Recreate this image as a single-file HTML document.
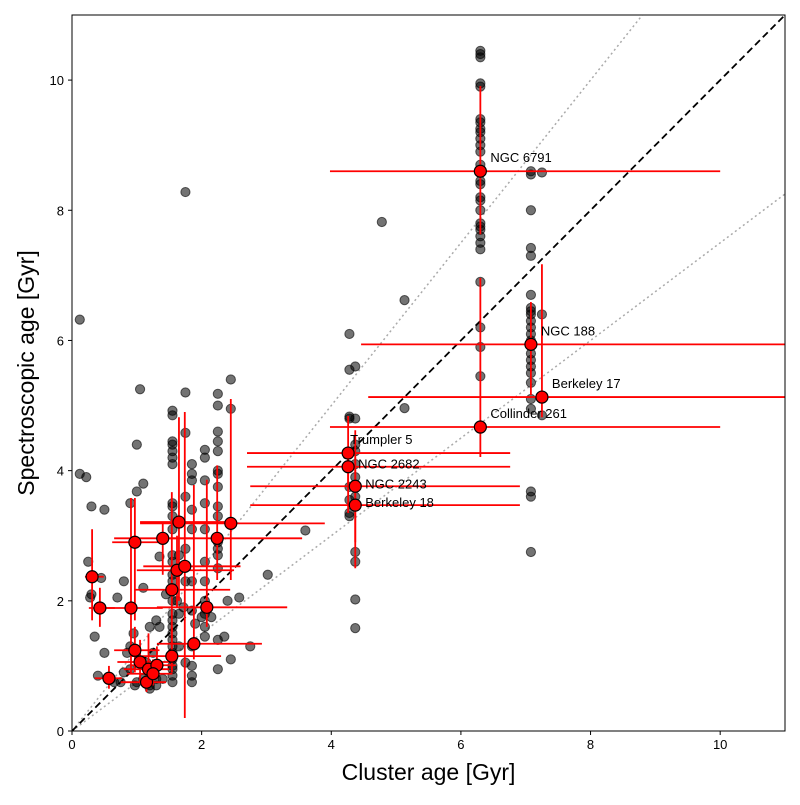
<!DOCTYPE html>
<html><head><meta charset="utf-8"><style>
body{margin:0;background:#fff}
svg{font-family:"Liberation Sans","DejaVu Sans",sans-serif}
</style></head><body>
<svg id="chart" width="800" height="800" viewBox="0 0 800 800"></svg>
<script>
const starX = [6.3,6.3,6.3,6.3,6.3,6.3,6.3,6.3,6.3,6.3,6.3,6.3,6.3,6.3,6.3,6.3,6.3,6.3,6.3,6.3,6.3,6.3,6.3,6.3,6.3,6.3,6.3,6.3,
7.08,7.08,7.08,7.08,7.08,7.08,7.08,7.08,7.08,7.08,7.08,7.08,7.08,7.08,7.08,7.08,7.08,7.08,7.08,7.08,7.08,7.25,7.25,7.25,
4.28,4.28,4.28,4.28,4.28,4.28,4.28,4.28,4.37,4.37,4.37,4.37,4.37,4.37,4.37,4.37,4.37,4.37,4.37,
4.78,5.13,5.13,3.6,3.02,2.75,2.58,
1.55,1.55,1.55,1.55,1.55,1.55,1.55,1.55,1.55,1.55,1.55,1.55,1.55,1.55,1.55,1.55,1.55,1.55,1.55,1.55,1.55,1.55,1.55,1.55,1.55,1.55,1.55,1.55,
1.85,1.85,1.85,1.85,1.85,1.85,1.85,1.85,1.85,1.85,1.85,2.05,2.05,2.05,2.05,2.05,2.05,2.05,2.05,2.05,2.05,2.05,
2.25,2.25,2.25,2.25,2.25,2.25,2.25,2.25,2.25,2.25,2.25,2.25,2.25,2.25,2.25,2.25,2.45,2.45,2.45,
1.75,1.75,1.75,1.75,1.75,1.75,1.75,1.65,1.65,1.65,1.35,1.35,1.3,1.3,1.2,1.2,1.1,1.1,1.05,1.0,1.0,0.97,0.95,0.9,0.9,0.85,0.8,0.7,0.65,0.6,0.5,0.45,0.4,0.3,0.3,0.28,0.25,0.12,0.12,0.22,0.35,0.5,0.8,1.25,1.45,1.62,1.72,1.9,2.0,2.15,2.4,2.35,1.4,1.15,1.0,1.1,1.2,1.3,0.9,0.75,
7.08,7.08];
const starY = [10.45,10.4,10.35,9.95,9.9,9.4,9.35,9.25,9.2,9.1,9.0,8.9,8.7,8.45,8.4,8.2,8.15,8.0,7.8,7.75,7.7,7.6,7.5,7.4,6.9,6.2,5.9,5.45,
8.6,8.55,8.0,7.42,7.3,6.7,6.5,6.45,6.4,6.3,6.2,6.1,6.0,5.8,5.7,5.6,5.5,5.35,5.1,4.95,3.68,8.58,6.4,4.85,
6.1,5.55,4.83,4.8,3.75,3.3,3.35,3.55,5.6,4.8,4.4,4.3,4.1,3.9,3.6,2.75,2.6,2.02,1.58,
7.82,6.62,4.96,3.08,2.4,1.3,2.05,
4.92,4.85,4.45,4.4,4.3,4.2,4.1,3.5,3.45,3.3,3.1,2.7,2.6,2.4,2.3,2.0,1.8,1.7,1.6,1.5,1.4,1.3,1.2,1.1,1.0,0.95,0.85,0.75,
4.1,3.95,3.85,3.4,3.1,2.3,1.85,1.3,1.0,0.85,0.75,4.32,4.2,3.85,3.5,3.1,2.6,2.3,2.0,1.8,1.6,1.45,
5.18,5.0,4.6,4.45,4.3,4.0,3.95,3.75,3.45,3.3,2.9,2.8,2.7,2.5,1.4,0.95,5.4,4.95,1.1,
8.28,5.2,4.58,3.6,2.8,2.3,1.05,2.7,1.8,1.3,2.68,1.6,1.7,0.7,1.6,0.65,3.8,2.2,5.25,4.4,3.68,0.7,1.5,3.5,1.3,1.2,0.9,2.05,0.75,0.8,3.4,2.35,0.85,2.1,3.45,2.05,2.6,6.32,3.95,3.9,1.45,1.2,2.3,1.2,2.1,2.0,1.9,1.65,1.75,1.75,2.0,1.45,0.8,1.05,0.75,0.8,0.7,0.8,0.95,0.75,
3.6,2.75];
const clusterNames = ["NGC 6791","NGC 188","Berkeley 17","Collinder 261","Trumpler 5","NGC 2682","NGC 2243","Berkeley 18"];
const clX  = [6.3,7.08,7.25,6.3,4.26,4.26,4.37,4.37,0.31,0.43,0.57,0.91,0.97,0.97,1.05,1.18,1.15,1.31,1.25,1.40,1.54,1.54,1.62,1.65,1.74,1.88,2.08,2.24,2.45];
const clY  = [8.6,5.94,5.13,4.67,4.27,4.06,3.76,3.47,2.37,1.89,0.81,1.89,2.9,1.24,1.06,0.95,0.75,1.01,0.88,2.96,2.17,1.15,2.47,3.21,2.53,1.34,1.9,2.96,3.19];
const clXlo= [3.98,4.46,4.57,3.98,2.7,2.7,2.75,2.75,0.2,0.26,0.35,0.5,0.62,0.65,0.7,0.8,0.75,0.9,0.85,0.65,0.97,0.9,1.0,1.05,1.1,1.31,1.31,1.5,1.05];
const clXhi= [10.0,11.5,11.5,10.0,6.76,6.76,6.91,6.91,0.49,0.66,0.77,1.4,1.34,1.35,1.5,1.5,1.45,1.6,1.55,1.9,2.44,2.3,2.5,2.5,2.6,2.93,3.32,3.55,3.9];
const clYlo= [7.63,5.16,4.82,4.21,3.35,3.8,2.5,2.9,1.7,1.6,0.65,0.89,1.7,0.9,0.75,0.7,0.6,0.8,0.7,2.4,0.9,0.9,1.9,2.0,0.2,1.1,1.6,2.32,2.32];
const clYhi= [9.91,6.59,7.17,6.96,4.84,4.3,4.62,4.2,3.1,2.2,1.0,3.58,3.58,1.6,1.4,1.5,0.9,1.3,1.1,3.2,3.67,1.6,3.0,4.82,4.9,3.78,3.86,4.08,5.1];
const xTicks = [0,2,4,6,8,10];
const yTicks = [0,2,4,6,8,10];

const L=72,R=785,T=15,B=731,XMAX=11,YMAX=11;
const sx=v=>L+(R-L)*v/XMAX, sy=v=>B-(B-T)*v/YMAX;
const svg=document.getElementById('chart');
const NS='http://www.w3.org/2000/svg';
function mk(tag,a,parent){const e=document.createElementNS(NS,tag);for(const k in a)e.setAttribute(k,a[k]);(parent||svg).appendChild(e);return e;}
const defs=mk('defs',{});const cp=mk('clipPath',{id:'clip'},defs);mk('rect',{x:L,y:T,width:R-L,height:B-T},cp);
const g=mk('g',{'clip-path':'url(#clip)'});


let ln=mk('line',{x1:sx(0),y1:sy(0),x2:sx(11),y2:sy(11*1.25),stroke:'#aaa','stroke-width':1.5,'stroke-dasharray':'2,3'},g);


ln=mk('line',{x1:sx(0),y1:sy(0),x2:sx(11),y2:sy(11*0.75),stroke:'#aaa','stroke-width':1.5,'stroke-dasharray':'2,3'},g);


ln=mk('line',{x1:sx(0),y1:sy(0),x2:sx(11),y2:sy(11),stroke:'#000','stroke-width':1.8,'stroke-dasharray':'7,4'},g);


for(let i=0;i<starX.length;i++){
 const c=mk('circle',{cx:sx(starX[i]),cy:sy(starY[i]),r:4.6,fill:'rgba(0,0,0,0.55)',stroke:'rgba(0,0,0,0.6)','stroke-width':1},g);
 
 
}
for(let i=0;i<clX.length;i++){
 const e1=mk('line',{x1:sx(clXlo[i]),x2:sx(clXhi[i]),y1:sy(clY[i]),y2:sy(clY[i]),stroke:'red','stroke-width':1.8},g);
 
 
 const e2=mk('line',{x1:sx(clX[i]),x2:sx(clX[i]),y1:sy(clYlo[i]),y2:sy(clYhi[i]),stroke:'red','stroke-width':1.8},g);
 
 
}
for(let i=0;i<clX.length;i++){
 const c=mk('circle',{cx:sx(clX[i]),cy:sy(clY[i]),r:6,fill:'red',stroke:'#000','stroke-width':1.2},g);
 
 
}
const ldx=[10,10,10,10,2,10,10,10], ldy=[-9,-9,-9,-9,-9,2,2,2];
for(let i=0;i<clusterNames.length;i++){
 const t=mk('text',{x:sx(clX[i])+ldx[i],y:sy(clY[i])+ldy[i],'font-size':13,fill:'#000'});
 t.textContent=clusterNames[i];
 
 
}
const fr=mk('rect',{x:L,y:T,width:R-L,height:B-T,fill:'none',stroke:'#000','stroke-width':1});


for(const v of xTicks){
 mk('line',{x1:sx(v),x2:sx(v),y1:B,y2:B+4,stroke:'#000'});
 const t=mk('text',{x:sx(v),y:B+18,'font-size':13,'text-anchor':'middle'});t.textContent=v;
 
 
}
for(const v of yTicks){
 mk('line',{x1:L-4,x2:L,y1:sy(v),y2:sy(v),stroke:'#000'});
 const t=mk('text',{x:L-8,y:sy(v)+5,'font-size':13,'text-anchor':'end'});t.textContent=v;
 
 
}
let t=mk('text',{x:(L+R)/2,y:780,'font-size':23,'text-anchor':'middle'});t.textContent='Cluster age [Gyr]';


t=mk('text',{x:34,y:(T+B)/2,'font-size':23,'text-anchor':'middle',transform:'rotate(-90 34 '+((T+B)/2)+')'});t.textContent='Spectroscopic age [Gyr]';


</script>
</body></html>
